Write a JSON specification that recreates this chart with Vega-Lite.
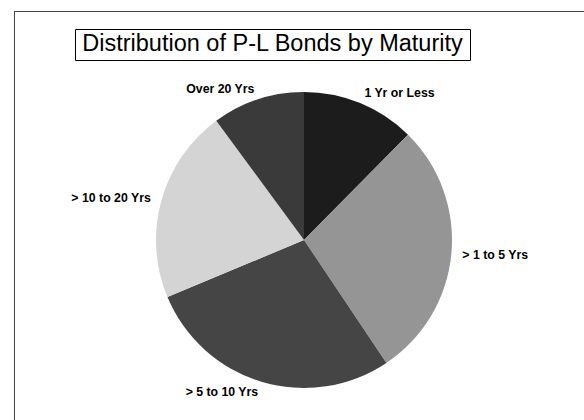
{
  "$schema": "https://vega.github.io/schema/vega-lite/v6.json",
  "autosize": {"type": "pad"},
  "padding": {"left": 14, "top": 5, "right": 0, "bottom": 0},
  "bounds": "flush",
  "spacing": 0,
  "background": "white",
  "config": {"view": {"stroke": null}, "font": "Liberation Sans"},
  "vconcat": [
    {
      "width": 570,
      "height": 1,
      "view": {"fill": "#444444", "stroke": null},
      "data": {"values": [{"frame": ""}]},
      "mark": {"type": "text"},
      "encoding": {"text": {"field": "frame", "type": "nominal"}}
    },
    {
      "bounds": "flush",
      "spacing": 0,
      "hconcat": [
        {
          "width": 1,
          "height": 414,
          "view": {"fill": "#444444", "stroke": null},
          "data": {"values": [{"frame": ""}]},
          "mark": {"type": "text"},
          "encoding": {"text": {"field": "frame", "type": "nominal"}}
        },
        {
          "width": 60,
          "height": 1,
          "data": {"values": [{"frame": ""}]},
          "mark": {"type": "text"},
          "encoding": {"text": {"field": "frame", "type": "nominal"}}
        },
        {
          "bounds": "flush",
          "spacing": 0,
          "vconcat": [
            {
              "width": 1,
              "height": 17,
              "data": {"values": [{"frame": ""}]},
              "mark": {"type": "text"},
              "encoding": {"text": {"field": "frame", "type": "nominal"}}
            },
            {
              "width": 395,
              "height": 31,
              "view": {"stroke": "#000000", "strokeWidth": 1},
              "data": {"values": [{"title": "Distribution of P-L Bonds by Maturity"}]},
              "mark": {"type": "text", "fontSize": 23.5, "font": "Liberation Sans", "color": "#000000", "dy": -1},
              "encoding": {"text": {"field": "title", "type": "nominal"}}
            },
            {
              "width": 458,
              "height": 360,
              "data": {
                "values": [
                  {"maturity": "1 Yr or Less", "pct": 12.4, "rank": 1},
                  {"maturity": "> 1 to 5 Yrs", "pct": 28.2, "rank": 2},
                  {"maturity": "> 5 to 10 Yrs", "pct": 28.1, "rank": 3},
                  {"maturity": "> 10 to 20 Yrs", "pct": 21.2, "rank": 4},
                  {"maturity": "Over 20 Yrs", "pct": 10.1, "rank": 5}
                ]
              },
              "encoding": {
                "theta": {"field": "pct", "type": "quantitative", "stack": true},
                "order": {"field": "rank", "type": "quantitative"}
              },
              "layer": [
                {
                  "mark": {"type": "arc", "outerRadius": 148},
                  "encoding": {
                    "color": {
                      "field": "maturity",
                      "type": "nominal",
                      "scale": {
                        "domain": ["1 Yr or Less", "> 1 to 5 Yrs", "> 5 to 10 Yrs", "> 10 to 20 Yrs", "Over 20 Yrs"],
                        "range": ["#1c1c1c", "#959595", "#454545", "#d4d4d4", "#3a3a3a"]
                      },
                      "legend": null
                    }
                  }
                },
                {
                  "mark": {"type": "text", "radius": 159, "align": "left", "fontSize": 12.3, "fontWeight": "bold", "color": "#000000"},
                  "encoding": {
                    "text": {"condition": {"test": "datum.rank <= 2", "field": "maturity", "type": "nominal"}, "value": ""}
                  }
                },
                {
                  "mark": {"type": "text", "radius": 159, "align": "right", "fontSize": 12.3, "fontWeight": "bold", "color": "#000000"},
                  "encoding": {
                    "text": {"condition": {"test": "datum.rank > 2", "field": "maturity", "type": "nominal"}, "value": ""}
                  }
                }
              ]
            }
          ]
        }
      ]
    }
  ]
}
